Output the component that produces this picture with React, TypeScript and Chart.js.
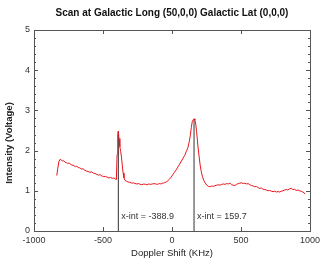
import React, { useEffect, useRef } from "react";
import { Chart, registerables } from "chart.js";

Chart.register(...registerables);

const TITLE = "Scan at Galactic Long (50,0,0) Galactic Lat (0,0,0)";
const X_TITLE = "Doppler Shift (KHz)";
const Y_TITLE = "Intensity (Voltage)";

const shiftKHz = [
  -835, -828, -820, -812, -804, -795, -785, -775, -765, -755, -745, -735, -725, -712, -700, -690, -680, -668, -655, -645,
  -632, -620, -608, -595, -582, -570, -558, -545, -532, -520, -508, -495, -482, -470, -458, -445, -432, -420, -410, -403,
  -398, -393, -389, -384, -378, -372, -366, -360, -354, -348, -340, -330, -318, -305, -292, -280, -268, -255, -242, -230,
  -218, -205, -192, -180, -168, -155, -142, -130, -118, -105, -92, -80, -68, -55, -42, -30, -18, -6, 6, 18,
  30, 42, 55, 68, 80, 92, 104, 115, 125, 133, 140, 147, 154, 160, 166, 172, 178, 184, 190, 197,
  204, 212, 220, 230, 240, 252, 264, 276, 288, 300, 312, 324, 336, 348, 360, 372, 384, 396, 408, 420,
  432, 444, 456, 468, 480, 492, 504, 516, 528, 540, 552, 564, 576, 588, 600, 612, 624, 636, 648, 660,
  672, 684, 696, 708, 720, 732, 744, 756, 768, 780, 792, 804, 816, 828, 840, 852, 864, 876, 888, 900,
  912, 924, 936, 948, 958, 964,
];

const intensity = [
  1.38, 1.55, 1.72, 1.78, 1.77, 1.74, 1.75, 1.71, 1.7, 1.68, 1.69, 1.66, 1.64, 1.63, 1.6, 1.61, 1.58, 1.57, 1.54, 1.55,
  1.51, 1.49, 1.48, 1.46, 1.47, 1.44, 1.43, 1.41, 1.39, 1.4, 1.37, 1.35, 1.36, 1.34, 1.32, 1.33, 1.31, 1.32, 1.29, 1.28,
  1.9, 2.4, 2.48, 2.3, 2.1, 1.98, 1.84, 1.62, 1.44, 1.32, 1.26, 1.24, 1.22, 1.21, 1.19, 1.2, 1.18, 1.17, 1.18, 1.16,
  1.15, 1.17, 1.16, 1.15, 1.17, 1.16, 1.17, 1.18, 1.17, 1.16, 1.18, 1.17, 1.19, 1.2, 1.22, 1.25, 1.29, 1.34, 1.4, 1.46,
  1.52, 1.59, 1.66, 1.74, 1.81, 1.88, 1.98, 2.07, 2.22, 2.38, 2.58, 2.72, 2.77, 2.79, 2.76, 2.66, 2.48, 2.26, 2.04, 1.84,
  1.64, 1.48, 1.36, 1.26, 1.2, 1.14, 1.11, 1.1, 1.12, 1.11, 1.13, 1.14, 1.15, 1.14, 1.16, 1.17, 1.16, 1.18, 1.17, 1.19,
  1.15, 1.14, 1.13, 1.16, 1.18, 1.19, 1.2, 1.18, 1.19, 1.17, 1.18, 1.15, 1.13, 1.12, 1.1, 1.11, 1.08, 1.06, 1.07, 1.04,
  1.03, 1.02, 1.0, 1.01, 0.99, 0.98, 0.99, 0.97, 0.98, 0.97, 0.99, 1.0, 1.02, 1.03, 1.02, 1.05, 1.06, 1.03, 1.04, 1.01,
  1.02, 1.0, 0.99, 0.97, 0.95, 0.92,
];

const xIntercepts = [-388.9, 159.7];
const interceptTops = [2.48, 2.79];
const interceptLabels = ["x-int = -388.9", "x-int = 159.7"];
const labelHeight = 0.36;

const FONT = "'Liberation Sans', Arial, sans-serif";

const decorPlugin = {
  id: "decor",
  afterDraw(chart: any) {
    const { ctx, chartArea } = chart;
    const xs = chart.scales.x;
    const ys = chart.scales.y;
    const { left, right, top, bottom } = chartArea;
    ctx.save();
    ctx.strokeStyle = "#555";
    ctx.lineWidth = 1;
    ctx.strokeRect(Math.round(left) + 0.5, Math.round(top) + 0.5, Math.round(right - left), Math.round(bottom - top));
    ctx.beginPath();
    for (let v = -500; v <= 500; v += 500) {
      const px = Math.round(xs.getPixelForValue(v)) + 0.5;
      ctx.moveTo(px, top);
      ctx.lineTo(px, top + 4);
      ctx.moveTo(px, bottom);
      ctx.lineTo(px, bottom - 4);
    }
    for (let i = 1; i < 25; i++) {
      const v = i * 0.2;
      const py = Math.round(ys.getPixelForValue(v)) + 0.5;
      const len = i % 5 === 0 ? 4 : 2;
      ctx.moveTo(left, py);
      ctx.lineTo(left + len, py);
      ctx.moveTo(right, py);
      ctx.lineTo(right - len, py);
    }
    ctx.stroke();

    ctx.fillStyle = "#333";
    ctx.font = `9px ${FONT}`;
    ctx.textAlign = "left";
    ctx.textBaseline = "middle";
    xIntercepts.forEach((xv, i) => {
      ctx.fillText(interceptLabels[i], xs.getPixelForValue(xv) + 3, ys.getPixelForValue(labelHeight));
    });

    ctx.textAlign = "center";
    ctx.fillStyle = "#111";
    ctx.font = `bold 10px ${FONT}`;
    ctx.fillText(TITLE, (left + right) / 2, 13);

    ctx.fillStyle = "#222";
    ctx.font = `9.5px ${FONT}`;
    ctx.fillText(X_TITLE, (left + right) / 2, 253);
    ctx.translate(9, 143);
    ctx.rotate(-Math.PI / 2);
    ctx.font = `bold 9.5px ${FONT}`;
    ctx.fillText(Y_TITLE, 0, 0);
    ctx.restore();
  },
};

export default function App() {
  const ref = useRef<HTMLCanvasElement>(null);
  useEffect(() => {
    if (!ref.current) return;
    const curve = shiftKHz.map((x, i) => ({ x, y: intensity[i] }));
    const lines = xIntercepts.map((x, i) => ({
      data: [
        { x, y: 0 },
        { x, y: interceptTops[i] },
      ],
      borderColor: "#333",
      borderWidth: 1,
      pointRadius: 0,
      tension: 0,
    }));
    const chart = new Chart(ref.current, {
      type: "line",
      data: {
        datasets: [
          {
            data: curve,
            borderColor: "#e8141b",
            borderWidth: 1,
            pointRadius: 0,
            tension: 0,
          },
          ...lines,
        ],
      },
      options: {
        animation: false,
        responsive: false,
        events: [],
        layout: { padding: { left: 0, right: 14, top: 30, bottom: 0 } },
        plugins: {
          legend: { display: false },
          tooltip: { enabled: false },
          title: { display: false },
        },
        scales: {
          x: {
            type: "linear",
            min: -1000,
            max: 1000,
            grid: { display: false, drawTicks: false },
            border: { display: false },
            ticks: {
              stepSize: 500,
              autoSkip: false,
              maxRotation: 0,
              padding: 4,
              color: "#333",
              font: { family: FONT, size: 9 },
              callback: (v: any) => String(v),
            },
            afterFit: (s: any) => {
              s.height = 37;
            },
          },
          y: {
            min: 0,
            max: 5,
            grid: { display: false, drawTicks: false },
            border: { display: false },
            ticks: {
              stepSize: 1,
              padding: 4,
              color: "#333",
              font: { family: FONT, size: 9 },
              callback: (v: any) => String(v),
            },
            afterFit: (s: any) => {
              s.width = 34;
            },
          },
        },
      },
      plugins: [decorPlugin],
    });
    return () => chart.destroy();
  }, []);
  return (
    <div style={{ position: "fixed", left: 0, top: 0, width: 324, height: 268, background: "#fff" }}>
      <canvas ref={ref} width={324} height={268} />
    </div>
  );
}
